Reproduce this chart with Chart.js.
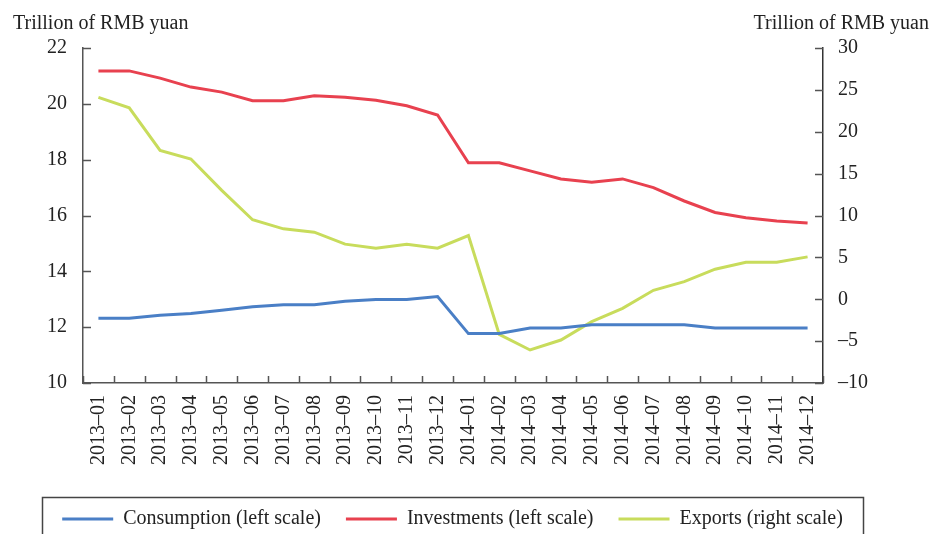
<!DOCTYPE html>
<html>
<head>
<meta charset="utf-8">
<script src="https://cdn.jsdelivr.net/npm/chart.js@4/dist/chart.umd.min.js"></script>
<style>
  body { margin: 0; background: #fff; }
  #wrap { width: 933px; height: 534px; position: relative; }
</style>
</head>
<body>
<div id="wrap"><canvas id="chart"></canvas></div>
<script>
// months on the x axis
const months = [
    "2013–01", "2013–02", "2013–03", "2013–04", "2013–05", "2013–06",
    "2013–07", "2013–08", "2013–09", "2013–10", "2013–11", "2013–12",
    "2014–01", "2014–02", "2014–03", "2014–04", "2014–05", "2014–06",
    "2014–07", "2014–08", "2014–09", "2014–10", "2014–11", "2014–12"
];

// left scale, trillion of RMB yuan
const consumption = [12.32, 12.32, 12.43, 12.49, 12.61, 12.73, 12.8, 12.8, 12.93, 12.99, 12.99, 13.1,
    11.77, 11.77, 11.97, 11.97, 12.09, 12.09, 12.09, 12.09, 11.97, 11.97, 11.97, 11.97];
const investments = [21.18, 21.18, 20.92, 20.6, 20.42, 20.11, 20.11, 20.29, 20.24, 20.13, 19.93, 19.6,
    17.89, 17.89, 17.6, 17.31, 17.19, 17.31, 17.0, 16.52, 16.11, 15.92, 15.8, 15.73];
// right scale
const exportsData = [24.1, 22.85, 17.78, 16.75, 13.0, 9.49, 8.41, 8.01, 6.58, 6.1, 6.58, 6.1,
    7.6, -4.19, -6.06, -4.87, -2.68, -1.08, 1.07, 2.1, 3.59, 4.42, 4.42, 5.06];

const seriesNames = ["Consumption (left scale)", "Investments (left scale)", "Exports (right scale)"];
const axisTitle = "Trillion of RMB yuan";

const leftMin = 10, leftMax = 22, leftStep = 2;
const rightMin = -10, rightMax = 30, rightStep = 5;

const axisColor = "#555";
const textColor = "#222";

Chart.defaults.font.family = "'Liberation Serif', 'DejaVu Serif', serif";
Chart.defaults.font.size = 20;
Chart.defaults.color = textColor;

// tick marks pointing inward, axis titles and the legend frame
const decor = {
    id: "decor",
    afterDraw(chart) {
        const {ctx, chartArea: a, scales} = chart;
        const x = scales.x, y = scales.y, y1 = scales.y1;
        ctx.save();
        ctx.strokeStyle = axisColor;
        ctx.lineWidth = 1.5;
        ctx.beginPath();
        const half = (x.getPixelForValue(1) - x.getPixelForValue(0)) / 2;
        for (let i = 0; i <= months.length; i++) {
            const px = Math.round(x.getPixelForValue(i) - half) + 0.5;
            ctx.moveTo(px, a.bottom);
            ctx.lineTo(px, a.bottom - 7);
        }
        y.ticks.forEach(t => {
            const py = Math.round(y.getPixelForValue(t.value)) + 0.5;
            ctx.moveTo(a.left, py);
            ctx.lineTo(a.left + 8, py);
        });
        y1.ticks.forEach(t => {
            const py = Math.round(y1.getPixelForValue(t.value)) + 0.5;
            ctx.moveTo(a.right, py);
            ctx.lineTo(a.right - 8, py);
        });
        ctx.stroke();

        // titles over the two value axes
        ctx.fillStyle = textColor;
        ctx.font = "20px 'Liberation Serif', serif";
        ctx.textBaseline = "alphabetic";
        ctx.textAlign = "left";
        ctx.fillText(axisTitle, 13, 29);
        ctx.textAlign = "right";
        ctx.fillText(axisTitle, 929, 29);

        // frame round the legend
        const boxes = chart.legend.legendHitBoxes;
        if (boxes && boxes.length) {
            const minX = Math.min(...boxes.map(b => b.left));
            const maxX = Math.max(...boxes.map(b => b.left + b.width));
            const top = boxes[0].top - 12;
            ctx.strokeStyle = "#444";
            ctx.lineWidth = 1.5;
            ctx.strokeRect(Math.round(minX - 20) + 0.5, Math.round(top) + 0.5, Math.round(maxX - minX + 40), 80);
        }
        ctx.restore();
    }
};

const ctx = document.getElementById("chart").getContext("2d");
new Chart(ctx, {
    type: "line",
    data: {
        labels: months,
        datasets: [
            {
                label: seriesNames[0],
                data: consumption,
                yAxisID: "y",
                borderColor: "#4a7fc6",
                backgroundColor: "#4a7fc6",
                borderWidth: 3,
                pointRadius: 0,
                pointStyle: "line",
                tension: 0
            },
            {
                label: seriesNames[1],
                data: investments,
                yAxisID: "y",
                borderColor: "#e8414f",
                backgroundColor: "#e8414f",
                borderWidth: 3,
                pointRadius: 0,
                pointStyle: "line",
                tension: 0
            },
            {
                label: seriesNames[2],
                data: exportsData,
                yAxisID: "y1",
                borderColor: "#c8dc5c",
                backgroundColor: "#c8dc5c",
                borderWidth: 3,
                pointRadius: 0,
                pointStyle: "line",
                tension: 0
            }
        ]
    },
    options: {
        responsive: true,
        maintainAspectRatio: false,
        animation: false,
        layout: {
            padding: {top: 48, left: 0, right: 28, bottom: -5}
        },
        plugins: {
            tooltip: {enabled: false},
            legend: {
                position: "bottom",
                labels: {
                    usePointStyle: true,
                    pointStyleWidth: 51,
                    boxHeight: 3,
                    padding: 25,
                    color: textColor
                }
            }
        },
        scales: {
            x: {
                offset: true,
                grid: {display: false, drawTicks: false},
                border: {display: true, color: axisColor, width: 1.5},
                ticks: {
                    minRotation: 90,
                    maxRotation: 90,
                    autoSkip: false,
                    padding: 12,
                    color: textColor
                },
                afterFit: scale => { scale.height = 101; }
            },
            y: {
                position: "left",
                min: leftMin,
                max: leftMax,
                grid: {display: false, drawTicks: false},
                border: {display: true, color: axisColor, width: 1.5},
                ticks: {stepSize: leftStep, padding: 16, color: textColor},
                afterFit: scale => { scale.width = 83; }
            },
            y1: {
                position: "right",
                min: rightMin,
                max: rightMax,
                grid: {display: false, drawTicks: false},
                border: {display: true, color: "#333", width: 1.5},
                ticks: {
                    stepSize: rightStep,
                    padding: 15,
                    color: textColor,
                    callback: v => (v < 0 ? "–" + Math.abs(v) : String(v))
                },
                afterFit: scale => { scale.width = 82; }
            }
        }
    },
    plugins: [decor]
});
</script>
</body>
</html>
